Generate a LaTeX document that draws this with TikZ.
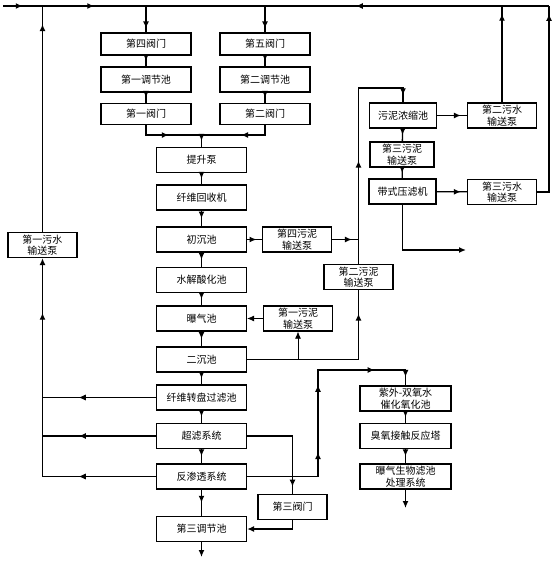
\documentclass[tikz,border=0pt]{standalone}
\usepackage{fontspec}
\newfontfamily\cjk{Noto Sans CJK SC}
\usetikzlibrary{arrows.meta,decorations.markings}

\tikzset{mid/.style={postaction={decorate,decoration={markings,mark=at position #1 with {\arrow{Latex[length=7pt,width=6pt]}}}}},
         mid/.default=.5}

\begin{document}
\begin{tikzpicture}[x=1pt, y=-1pt, line width=1.3pt, >={Latex[length=7pt,width=6pt]}]

\tikzstyle{box} = [rectangle, draw, line width=1.3pt, minimum width=90pt, minimum height=25pt,
                   inner sep=0.5pt, align=center, font=\cjk\fontsize{10}{11.5}\selectfont]
\tikzstyle{pump} = [box, minimum width=69pt]
\tikzstyle{thinline} = [line width=0.7pt]

\useasboundingbox (0,0) rectangle (557,563);

\coordinate (in) at (3,6);
\coordinate (tr) at (549,6);

% valves and equalising tanks
\node[box, minimum height=22pt] (v4) at (146,44) {第四阀门};
\node[box] (t1) at (146,79.5) {第一调节池};
\node[box, minimum height=21pt] (v1) at (146,114) {第一阀门};

\node[box, minimum height=22pt] (v5) at (265,44) {第五阀门};
\node[box] (t2) at (265,79.5) {第二调节池};
\node[box, minimum height=21pt] (v2) at (265,114) {第二阀门};

\coordinate (m) at (201.5,135);

% main line
\node[box] (lift)  at (201.5,160)   {提升泵};
\node[box] (fiber) at (201.5,197.5) {纤维回收机};
\node[box] (prim)  at (201.5,239.5) {初沉池};
\node[box] (hydro) at (201.5,280)   {水解酸化池};
\node[box] (aer)   at (201.5,318.5) {曝气池};
\node[box] (sec)   at (201.5,359.5) {二沉池};
\node[box] (disc)  at (201.5,397.5) {纤维转盘过滤池};
\node[box] (uf)    at (201.5,436)   {超滤系统};
\node[box] (ro)    at (201.5,476.5) {反渗透系统};
\node[box] (t3)    at (201.5,529)   {第三调节池};

\node[pump] (pw1) at (42.5,245) {第一污水\\输送泵};

% sludge side
\node[pump] (sp4) at (297,239.5) {第四污泥\\输送泵};
\node[pump] (sp1) at (298,318.5) {第一污泥\\输送泵};
\node[pump] (sp2) at (358.5,277) {第二污泥\\输送泵};
\node[box, minimum width=67pt] (thick) at (403,115.5) {污泥浓缩池};
\node[box, minimum width=64pt] (sp3) at (402,154.5) {第三污泥\\输送泵};
\node[box, minimum width=67pt] (belt) at (402.5,191.5) {带式压滤机};
\node[pump] (pw2) at (502,115.5) {第二污水\\输送泵};
\node[pump] (pw3) at (502,192) {第三污水\\输送泵};

\node[pump] (v3) at (292.5,507) {第三阀门};

% advanced treatment
\node[box, minimum width=91pt] (uv)  at (405.5,398.5) {紫外-双氧水\\催化氧化池};
\node[box, minimum width=91pt] (oz)  at (405.5,436)   {臭氧接触反应塔};
\node[box, minimum width=91pt] (baf) at (405.5,476.5) {曝气生物滤池\\处理系统};

\coordinate (j1) at (sp2.north |- sp4);
\coordinate (up) at (358.5,88);
\coordinate (cake) at (466,250);
\coordinate (c4) at (318,370);
\coordinate (out1) at (201.5,557);
\coordinate (out2) at (405.5,508);

% top line
\draw[mid] (in) -- (pw1 |- in);
\draw[mid] (pw1 |- in) -- (v4 |- in);
\draw (v4 |- in) -- (v5 |- in);
\draw[mid=.68] (tr) -- (v5 |- in);

\draw[mid=.85] (v4 |- in) -- (v4);
\draw[mid=.85] (v5 |- in) -- (v5);
\draw[mid] (v4) -- (t1);
\draw[mid] (t1) -- (v1);
\draw[mid] (v5) -- (t2);
\draw[mid] (t2) -- (v2);
\draw[mid] (v1) |- (m);
\draw[mid=.46] (v2) |- (m);
\draw[mid] (m) -- (lift);

\draw[mid] (lift) -- (fiber);
\draw[mid] (fiber) -- (prim);
\draw[mid] (prim) -- (hydro);
\draw[mid] (hydro) -- (aer);
\draw[mid] (aer) -- (sec);
\draw[mid] (sec) -- (disc);
\draw[mid] (disc) -- (uf);
\draw[mid] (uf) -- (ro);
\draw[mid] (ro) -- (t3);
\draw[->] (t3) -- (out1);

% back to the top line
\draw[thinline, mid=.68] (disc.west) -- (disc.west -| pw1);
\draw[mid=.68] (uf.west) -- (uf.west -| pw1);
\draw[thinline, mid=.68] (ro.west) -- (ro.west -| pw1);
\draw[mid=.75, ->] (ro.west -| pw1) -- (pw1);
\draw[mid=.92] (pw1) -- (pw1 |- in);

% sludge
\draw[mid=.64] (prim) -- (sp4);
\draw[mid=.75] (sp4) -- (j1);
\draw[mid=.87] (sec.east) -| (sp2.south);
\draw[thinline, ->] (sp1 |- sec.east) -- (sp1);
\draw[thinline, ->] (sp1) -- (aer);
\draw[mid=.44, mid=.97] (sp2.north) -- (up) -| (thick.north);
\draw[mid] (thick) -- (sp3);
\draw[mid] (sp3) -- (belt);
\draw[mid=.8] (thick) -- (pw2);
\draw[mid=.8] (belt) -- (pw3);
\draw[->] (belt.south) |- (cake);
\draw[mid=.92] (pw2) -- (pw2 |- in);
\draw[mid=.96] (pw3.east) -| (tr);

% permeate and concentrate
\draw[mid=.93] (uf.east) -| (v3.north);
\draw[->] (v3.south) |- (t3.east);
\draw[mid=.34, mid=.58, mid=.835, mid=.97] (ro.east) -- (ro.east -| c4) -- (c4) -| (uv.north);
\draw[mid] (uv) -- (oz);
\draw[mid] (oz) -- (baf);
\draw[->] (baf) -- (out2);

\end{tikzpicture}
\end{document}
